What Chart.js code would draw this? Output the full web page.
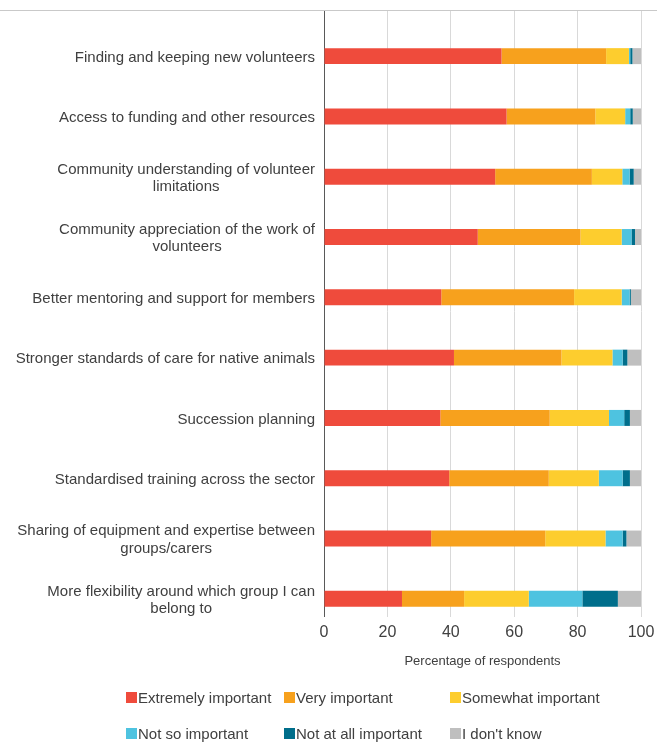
<!DOCTYPE html>
<html lang="en">
  <head>
    <meta charset="UTF-8" />
    <title>Priorities for volunteers</title>
    <script src="https://cdn.jsdelivr.net/npm/chart.js"></script>
    <style>
      body {
        margin: 0;
        background: #fff;
        font-family: "Liberation Sans", Arial, sans-serif;
      }
      .wrap {
        position: relative;
        width: 668px;
        height: 742px;
      }
      .top-rule {
        position: absolute;
        left: 0;
        top: 10px;
        width: 657px;
        height: 1px;
        background: #c9c9c9;
      }
      .legend {
        position: absolute;
        left: 126px;
        top: 688px;
        display: grid;
        grid-template-columns: 158px 166px auto;
        grid-auto-rows: 36px;
        font-size: 15px;
        color: #404040;
      }
      .legend-item {
        display: flex;
        align-items: center;
        height: 18px;
        white-space: nowrap;
      }
      .legend-item span {
        display: inline-block;
        width: 11px;
        height: 11px;
        margin-right: 1px;
      }
    </style>
  </head>
  <body>
    <div class="wrap">
      <canvas id="chart"></canvas>
      <div class="top-rule"></div>
      <div class="legend" id="legend"></div>
    </div>

    <script>
      const categories = [
        "Finding and keeping new volunteers",
        "Access to funding and other resources",
        ["Community understanding of volunteer", "limitations"],
        ["Community appreciation of the work of", "volunteers"],
        "Better mentoring and support for members",
        "Stronger standards of care for native animals",
        "Succession planning",
        "Standardised training across the sector",
        ["Sharing of equipment and expertise between", "groups/carers"],
        ["More flexibility around which group I can", "belong to"],
      ];

      const seriesNames = [
        "Extremely important",
        "Very important",
        "Somewhat important",
        "Not so important",
        "Not at all important",
        "I don't know",
      ];
      const seriesColors = ["#ef4b3c", "#f7a11d", "#fdcd2e", "#4ec3e0", "#006e8b", "#bfbfbf"];

      // percentage of respondents, one value per category (top to bottom)
      const extremely = [56, 57.6, 54, 48.5, 37, 41, 36.7, 39.5, 33.8, 24.6];
      const very = [33, 28, 30.5, 32.4, 41.9, 33.9, 34.5, 31.4, 36, 19.6];
      const somewhat = [7.2, 9.4, 9.6, 13, 15, 16.1, 18.7, 15.8, 19, 20.4];
      const notSo = [0.4, 1.6, 2.3, 3.1, 2.5, 3.2, 4.8, 7.5, 5.4, 16.9];
      const notAtAll = [0.7, 0.8, 1.3, 1.1, 0.4, 1.5, 1.8, 2.3, 1.2, 11.2];
      const dontKnow = [2.7, 2.6, 2.3, 1.9, 3.2, 4.3, 3.5, 3.5, 4.6, 7.3];

      const seriesValues = [extremely, very, somewhat, notSo, notAtAll, dontKnow];

      const textColor = "#404040";
      const fontFamily = '"Liberation Sans", Arial, sans-serif';

      // empty first stack pushes the real bars to the lower half of each row
      const datasets = [
        {
          label: "",
          data: categories.map(() => 0),
          stack: "spacer",
          backgroundColor: "rgba(0,0,0,0)",
        },
      ].concat(
        seriesNames.map((name, i) => ({
          label: name,
          data: seriesValues[i],
          stack: "main",
          backgroundColor: seriesColors[i],
          borderWidth: 0,
        }))
      );

      // category labels, lines centred on each other, block right-aligned to the axis
      const categoryLabels = {
        id: "categoryLabels",
        afterDraw(chart) {
          const ctx = chart.ctx;
          const bars = chart.getDatasetMeta(1).data;
          const right = chart.chartArea.left - 9;
          const lineHeight = 17.6;
          ctx.save();
          ctx.font = "15px " + fontFamily;
          ctx.fillStyle = textColor;
          ctx.textAlign = "center";
          ctx.textBaseline = "middle";
          categories.forEach((label, i) => {
            const lines = [].concat(label);
            const w = Math.max(...lines.map((l) => ctx.measureText(l).width));
            const cx = right - w / 2;
            const y0 = bars[i].y + 1.5 - ((lines.length - 1) * lineHeight) / 2;
            lines.forEach((l, j) => ctx.fillText(l, cx, y0 + j * lineHeight));
          });
          ctx.restore();
        },
      };

      new Chart(document.getElementById("chart"), {
        type: "bar",
        data: { labels: categories, datasets: datasets },
        options: {
          indexAxis: "y",
          responsive: true,
          maintainAspectRatio: false,
          animation: false,
          categoryPercentage: 1.06,
          barPercentage: 0.5,
          layout: { padding: { top: 10, right: 27, bottom: 59, left: 0 } },
          plugins: {
            legend: { display: false },
            tooltip: { enabled: false },
          },
          scales: {
            x: {
              stacked: true,
              min: 0,
              max: 100,
              ticks: {
                stepSize: 20,
                padding: 6,
                color: textColor,
                font: { family: fontFamily, size: 16 },
              },
              grid: {
                color: (c) => (c.tick && c.tick.value === 0 ? "#595959" : "#d9d9d9"),
                tickLength: 4,
              },
              border: { display: false },
              title: {
                display: true,
                text: "Percentage of respondents",
                color: textColor,
                font: { family: fontFamily, size: 13 },
                padding: { top: 4, bottom: 14 },
              },
              afterFit(scale) {
                scale.height = 70;
              },
            },
            y: {
              stacked: true,
              ticks: { display: false },
              grid: { display: false },
              border: { display: true, color: "#595959" },
              afterFit(scale) {
                scale.width = 324;
              },
            },
          },
        },
        plugins: [categoryLabels],
      });

      const legend = document.getElementById("legend");
      seriesNames.forEach((name, i) => {
        const item = document.createElement("div");
        item.className = "legend-item";
        const box = document.createElement("span");
        box.style.background = seriesColors[i];
        item.appendChild(box);
        item.appendChild(document.createTextNode(name));
        legend.appendChild(item);
      });
    </script>
  </body>
</html>
